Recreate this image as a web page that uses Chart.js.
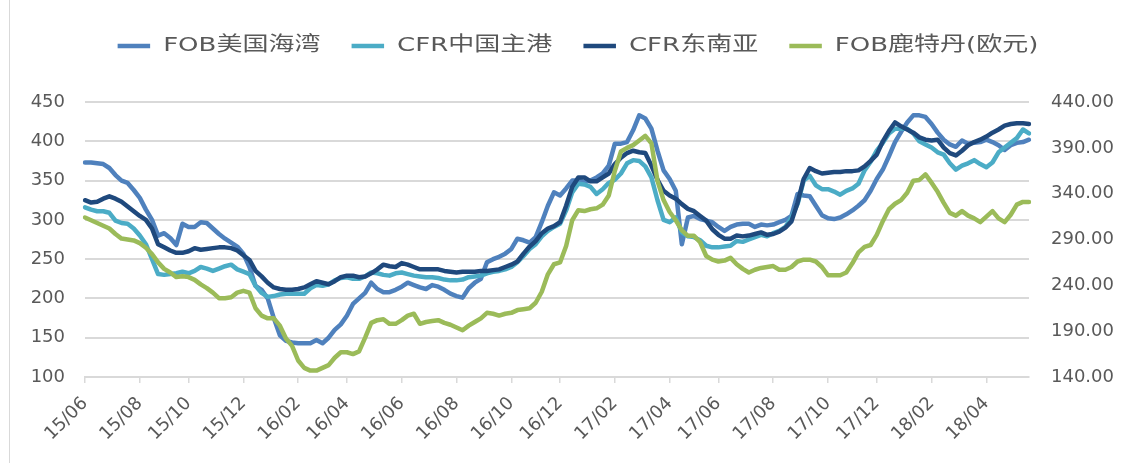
<!DOCTYPE html>
<html>
<head>
<meta charset="utf-8">
<script src="https://cdn.jsdelivr.net/npm/chart.js@4/dist/chart.umd.min.js"></script>
<style>
  html, body { margin: 0; padding: 0; background: #fff; }
  #wrap { position: relative; width: 1123px; height: 463px; }
</style>
</head>
<body>
<div id="wrap"><canvas id="grafico"></canvas></div>
<script>
// weekly prices, first week = 2015-06-05
const fobEUA = [
  373, 373, 372, 371, 366, 357, 350, 347, 338, 328, 313, 300, 280, 283, 277, 268,
  295, 291, 291, 297, 296, 289, 282, 276, 271, 266, 257, 240, 216, 211, 200, 175,
  153, 146, 144, 143, 143, 143, 147, 143, 150, 160, 167, 178, 193, 200, 207, 220,
  212, 208, 208, 211, 215, 220, 217, 214, 212, 217, 215, 211, 206, 203, 201, 213,
  220, 225, 246, 250, 253, 257, 263, 276, 274, 271, 278, 297, 318, 335, 331, 340,
  350, 350, 348, 350, 354, 359, 369, 397, 397, 399, 414, 433, 429, 416, 388, 363,
  352, 337, 269, 303, 305, 301, 299, 297, 291, 286, 291, 294, 295, 295, 291, 294,
  293, 294, 297, 300, 305, 333, 331, 330, 318, 306, 302, 301, 303, 307, 312, 318,
  325, 337, 352, 364, 381, 399, 412, 424, 433, 433, 431, 422, 411, 402, 396, 393,
  401, 397, 398, 399, 402, 399, 395, 389, 395, 398, 399, 402
];
const cfrChina = [
  316, 313, 311, 311, 309, 299, 296, 295, 289, 280, 269, 250, 231, 230, 231, 232,
  234, 232, 235, 240, 238, 235, 238, 241, 243, 237, 234, 231, 216, 207, 202, 203,
  205, 206, 206, 206, 206, 213, 217, 216, 218, 223, 226, 227, 225, 225, 228, 233,
  232, 230, 229, 232, 233, 231, 229, 228, 227, 227, 226, 224, 223, 223, 224, 227,
  228, 229, 232, 234, 235, 237, 240, 246, 254, 263, 269, 279, 286, 291, 295, 312,
  335, 346, 345, 342, 333, 339, 347, 351, 359, 372, 376, 375, 368, 354, 325, 300,
  297, 303, 284, 279, 278, 274, 267, 265, 265, 266, 267, 273, 272, 275, 278, 281,
  279, 283, 286, 291, 303, 320, 350, 356, 344, 339, 339, 336, 332, 337, 340, 346,
  363, 374, 388, 398, 410, 416, 416, 416, 410, 400, 396, 392, 386, 383, 372, 364,
  369, 372, 376, 371, 367, 373, 386, 392, 398, 404, 415, 410
];
const cfrSudeste = [
  325, 322, 323, 327, 330, 327, 323, 317, 311, 305, 300, 289, 269, 265, 261, 258,
  258, 260, 264, 262, 263, 264, 265, 265, 264, 261, 255, 249, 235, 228, 220, 214,
  212, 211, 211, 212, 214, 218, 222, 220, 218, 222, 227, 229, 229, 227, 228, 232,
  237, 243, 241, 240, 245, 243, 240, 237, 237, 237, 237, 235, 234, 233, 234, 234,
  234, 235, 235, 236, 237, 240, 243, 247, 257, 266, 273, 283, 289, 292, 297, 318,
  342, 354, 354, 349, 349, 354, 359, 371, 379, 385, 388, 386, 385, 369, 351, 337,
  331, 327, 320, 314, 311, 305, 299, 288, 281, 276, 276, 280, 279, 280, 282, 284,
  281, 282, 285, 290, 298, 322, 352, 366, 362, 359, 360, 361, 361, 362, 362, 363,
  368, 375, 383, 400, 413, 424, 419, 415, 411, 405, 402, 401, 402, 392, 385, 382,
  388, 395, 399, 402, 406, 411, 415, 420, 422, 423, 423, 422
];
const fobRoterda = [
  314, 311, 308, 305, 302, 296, 291, 290, 289, 286, 281, 274, 265, 258, 254, 249,
  250, 249, 246, 241, 237, 232, 226, 226, 227, 232, 234, 232, 215, 207, 204, 204,
  196, 182, 174, 158, 150, 147, 147, 150, 153, 161, 167, 167, 165, 168, 183, 199,
  202, 203, 198, 198, 202, 207, 209, 198, 200, 201, 202, 199, 197, 194, 191, 196,
  200, 204, 210, 209, 207, 209, 210, 213, 214, 215, 221, 233, 252, 263, 265, 283,
  311, 322, 321, 323, 324, 328, 338, 365, 386, 390, 393, 398, 403, 395, 354, 333,
  320, 311, 300, 294, 294, 287, 272, 268, 266, 267, 270, 263, 258, 254, 257, 259,
  260, 261, 257, 257, 260, 266, 268, 268, 266, 260, 251, 251, 251, 254, 264, 276,
  282, 284, 295, 310, 323, 329, 333, 341, 354, 355, 361, 352, 342, 330, 319, 316,
  321, 316, 313, 309, 315, 321, 313, 309, 317, 328, 331, 331
];
const ticksEsq = [100, 450, 50];
const ticksDir = [140, 440, 50];

const semanas = [];
const marcas = new Set();
for (let i = 0; i < fobEUA.length; i++) {
  const d = new Date(Date.UTC(2015, 5, 5 + 7 * i));
  const mes = d.getUTCMonth() + 1;
  semanas.push(String(d.getUTCFullYear()).slice(2) + '/' + String(mes).padStart(2, '0'));
  if (mes % 2 === 0 && d.getUTCDate() <= 7) marcas.add(i);
}

const fonte = 'DejaVu Sans, "Noto Sans CJK SC", sans-serif';
const cinza = '#595959';
const grade = '#d9d9d9';

// legend stretched sideways like the original, plus the frame line on the left
const ajusteLegenda = {
  id: 'ajusteLegenda',
  afterInit(chart) {
    const leg = chart.legend;
    const fitOrig = leg.fit;
    leg.fit = function () { fitOrig.call(this); this.height = 102; };
    const drawOrig = leg.draw;
    leg.draw = function () {
      const c = this.ctx;
      c.save();
      c.translate(578, 12);
      c.scale(1.3, 1);
      c.translate(-561.5, 0);
      drawOrig.call(this);
      c.restore();
    };
  },
  beforeDraw(chart) {
    const c = chart.ctx;
    c.save();
    c.strokeStyle = grade;
    c.lineWidth = 1;
    c.beginPath();
    c.moveTo(9.5, 0);
    c.lineTo(9.5, chart.height);
    c.stroke();
    c.restore();
  }
};

function serie(label, data, cor, eixo, ordem) {
  return {
    label, data, yAxisID: eixo, order: ordem,
    borderColor: cor, backgroundColor: cor,
    borderWidth: 4.5, pointRadius: 0, tension: 0,
    borderJoinStyle: 'round', borderCapStyle: 'round'
  };
}

new Chart(document.getElementById('grafico'), {
  type: 'line',
  data: {
    labels: semanas,
    datasets: [
      serie('FOB美国海湾', fobEUA, '#4f81bd', 'y', 3),
      serie('CFR中国主港', cfrChina, '#4bacc6', 'y', 2),
      serie('CFR东南亚', cfrSudeste, '#1f497d', 'y', 1),
      serie('FOB鹿特丹(欧元)', fobRoterda, '#9bbb59', 'y1', 0)
    ]
  },
  options: {
    responsive: true,
    maintainAspectRatio: false,
    animation: false,
    layout: { padding: 0 },
    plugins: {
      tooltip: { enabled: false },
      legend: {
        position: 'top',
        labels: {
          usePointStyle: true,
          pointStyle: 'line',
          pointStyleWidth: 25,
          padding: 24,
          color: cinza,
          font: { family: fonte, size: 20 },
          sort: (a, b) => a.datasetIndex - b.datasetIndex
        }
      }
    },
    scales: {
      x: {
        grid: {
          drawOnChartArea: false,
          tickLength: 6,
          lineWidth: 1.5,
          tickColor: c => marcas.has(c.index) ? grade : 'rgba(0,0,0,0)'
        },
        border: { color: grade, width: 2 },
        ticks: {
          autoSkip: false,
          minRotation: 45,
          maxRotation: 45,
          padding: 10,
          color: cinza,
          font: { family: fonte, size: 18 },
          callback: (v, i) => marcas.has(i) ? semanas[i] : ''
        },
        afterFit: s => { s.height = 86; }
      },
      y: {
        position: 'left',
        min: ticksEsq[0],
        max: ticksEsq[1],
        ticks: { stepSize: ticksEsq[2], padding: 20, color: cinza, font: { family: fonte, size: 18 } },
        grid: { color: grade, lineWidth: 2, drawTicks: false },
        border: { display: false },
        afterFit: s => { s.width = 85; }
      },
      y1: {
        position: 'right',
        min: ticksDir[0],
        max: ticksDir[1],
        ticks: {
          stepSize: ticksDir[2], padding: 22, color: cinza,
          font: { family: fonte, size: 18 },
          callback: v => v.toFixed(2)
        },
        grid: { display: false, drawTicks: false },
        border: { display: false },
        afterFit: s => { s.width = 94; }
      }
    }
  },
  plugins: [ajusteLegenda]
});
</script>
</body>
</html>
